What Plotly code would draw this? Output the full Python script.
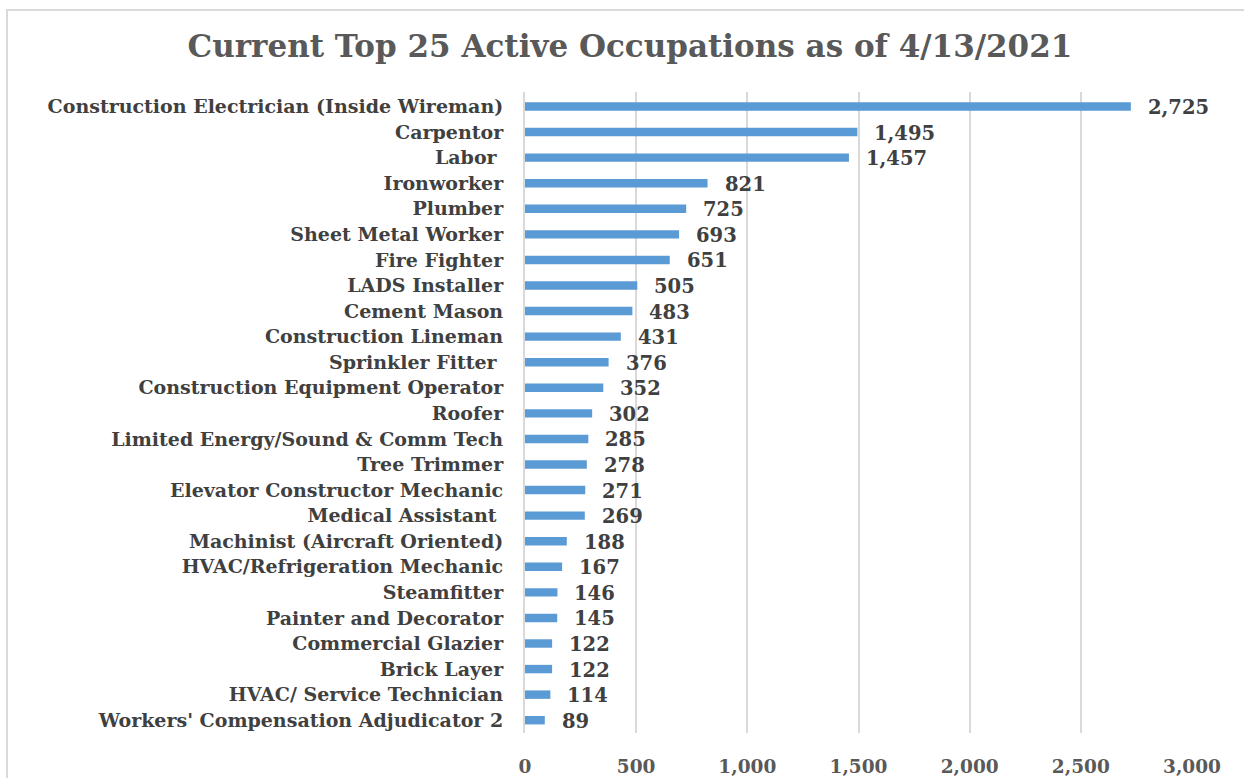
import plotly.graph_objects as go

title_text = "Current Top 25 Active Occupations as of 4/13/2021"

occupations = [
    "Construction Electrician (Inside Wireman)",
    "Carpentor",
    "Labor ",
    "Ironworker",
    "Plumber",
    "Sheet Metal Worker",
    "Fire Fighter",
    "LADS Installer",
    "Cement Mason",
    "Construction Lineman",
    "Sprinkler Fitter ",
    "Construction Equipment Operator",
    "Roofer",
    "Limited Energy/Sound & Comm Tech",
    "Tree Trimmer",
    "Elevator Constructor Mechanic",
    "Medical Assistant ",
    "Machinist (Aircraft Oriented)",
    "HVAC/Refrigeration Mechanic",
    "Steamfitter",
    "Painter and Decorator",
    "Commercial Glazier",
    "Brick Layer",
    "HVAC/ Service Technician",
    "Workers' Compensation Adjudicator 2",
]

active_counts = [2725, 1495, 1457, 821, 725, 693, 651, 505, 483, 431, 376, 352, 302,
                 285, 278, 271, 269, 188, 167, 146, 145, 122, 122, 114, 89]

x_tick_values = [0, 500, 1000, 1500, 2000, 2500, 3000]
x_tick_labels = ["0", "500", "1,000", "1,500", "2,000", "2,500", "3,000"]

FONT = "DejaVu Serif"
BAR_COLOR = "#5B9BD5"
GRID = "#D9D9D9"

fig = go.Figure()
fig.add_trace(go.Bar(
    x=active_counts,
    y=occupations,
    orientation="h",
    marker=dict(color=BAR_COLOR, line=dict(width=0)),
    hoverinfo="x+y",
))

for occ, val in zip(occupations, active_counts):
    fig.add_annotation(
        x=val, y=occ, xref="x", yref="y",
        text=f"<b>{val:,}</b>",
        showarrow=False, xanchor="left", yanchor="middle",
        xshift=15, yshift=-1,
        font=dict(family=FONT, size=19.5, color="#404040"),
    )

# outer chart border (only top and left edges are visible in the frame)
fig.add_shape(type="rect", xref="paper", yref="paper",
              x0=-0.7766, x1=1.2, y0=-0.3, y1=1.128,
              line=dict(color=GRID, width=2), fillcolor="rgba(0,0,0,0)", layer="below")

fig.update_layout(
    width=1244, height=778,
    margin=dict(l=525, r=52, t=92, b=45, autoexpand=False),
    paper_bgcolor="white", plot_bgcolor="white",
    bargap=0.67,
    showlegend=False,
    title=dict(text=f"<b>{title_text}</b>", x=0.5064, xanchor="center",
               y=0.9405, yanchor="middle", yref="container",
               font=dict(family=FONT, size=31, color="#595959")),
    xaxis=dict(range=[0, 3000], tickmode="array", tickvals=x_tick_values,
               ticktext=[f"<b>{t}</b>" for t in x_tick_labels],
               showgrid=True, gridcolor=GRID, gridwidth=2, automargin=False,
               zeroline=False, showline=False, ticks="",
               ticklabelstandoff=20,
               tickfont=dict(family=FONT, size=18.5, color="#595959")),
    yaxis=dict(categoryorder="array", categoryarray=occupations, autorange="reversed",
               showgrid=False, zeroline=False, showline=True, linecolor=GRID, linewidth=2,
               ticks="", ticklabelstandoff=16, automargin=False,
               tickmode="array", tickvals=occupations,
               ticktext=[f"<b>{o}</b>" for o in occupations],
               tickfont=dict(family=FONT, size=19, color="#404040")),
)

fig.write_html(
    "out.html",
    config={"displayModeBar": False},
    post_script="document.body.style.margin='0';document.body.style.overflow='hidden';",
)
